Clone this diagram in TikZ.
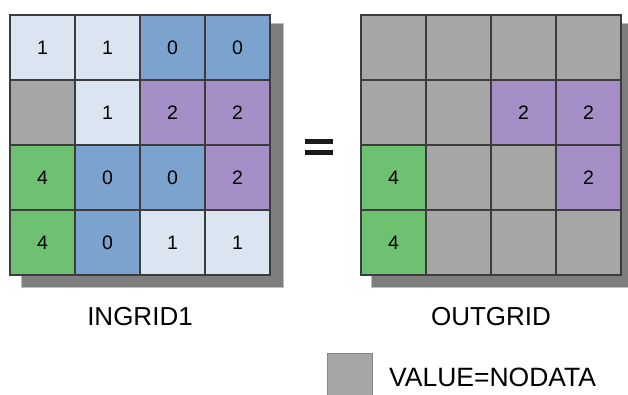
\documentclass[tikz,border=0pt]{standalone}
\usepackage{fontspec}
\setmainfont{Liberation Sans}
\definecolor{lb}{HTML}{DAE5F1}
\definecolor{bl}{HTML}{7BA3CD}
\definecolor{pu}{HTML}{A58FC6}
\definecolor{gr}{HTML}{6EC170}
\definecolor{nd}{HTML}{A6A6A6}
\definecolor{sh}{HTML}{7E7E7E}
\definecolor{ln}{HTML}{3C3C3C}
\begin{document}
\begin{tikzpicture}[x=1pt,y=-1pt,
  cellbox/.style={draw=ln, line width=1.2pt, minimum width=65pt, minimum height=65pt,
    inner sep=0pt, outer sep=0pt, font=\fontsize{19.5}{19.5}\selectfont},
  gridtitle/.style={font=\fontsize{26}{26}\selectfont, anchor=base},
  shadowbox/.style={fill=sh}]
\useasboundingbox (0,0) rectangle (628,394);
% shadows
\fill[shadowbox, opacity=0.5] (21,23) rectangle (284,288);
\fill[shadowbox] (22,24) rectangle (283,287);
\fill[shadowbox, opacity=0.5] (371,23) rectangle (628,288);
\fill[shadowbox] (372,24) rectangle (628,287);
% left grid
\foreach \r/\row in {1/{lb/1,lb/1,bl/0,bl/0},2/{nd/{},lb/1,pu/2,pu/2},3/{gr/4,bl/0,bl/0,pu/2},4/{gr/4,bl/0,lb/1,lb/1}}{
  \foreach \col/\v [count=\c] in \row {
    \node[cellbox, fill=\col] (L-\r-\c) at ({10+32.5+65*(\c-1)},{15+32.5+65*(\r-1)}) {\v};
  }
}
% right grid
\foreach \r/\row in {1/{nd/{},nd/{},nd/{},nd/{}},2/{nd/{},nd/{},pu/2,pu/2},3/{gr/4,nd/{},nd/{},pu/2},4/{gr/4,nd/{},nd/{},nd/{}}}{
  \foreach \col/\v [count=\c] in \row {
    \node[cellbox, fill=\col] (R-\r-\c) at ({361+32.5+65*(\c-1)},{15+32.5+65*(\r-1)}) {\v};
  }
}
% equals sign
\fill[black!90] (305,139) rectangle (333,144);
\fill[black!90] (305,150) rectangle (333,155);
% titles
\node[gridtitle] (tin) at (140,325) {INGRID1};
\node[gridtitle] (tout) at (491,325) {OUTGRID};
% legend
\node[draw=nd!80!black, line width=0.6pt, fill=nd, minimum width=45pt, minimum height=45pt,
  anchor=north west, inner sep=0pt] (legend) at (327,353) {};
\node[font=\fontsize{26.5}{26.5}\selectfont, anchor=base west, inner sep=0pt] (legtext) at (389,386) {VALUE=NODATA};
\end{tikzpicture}
\end{document}
